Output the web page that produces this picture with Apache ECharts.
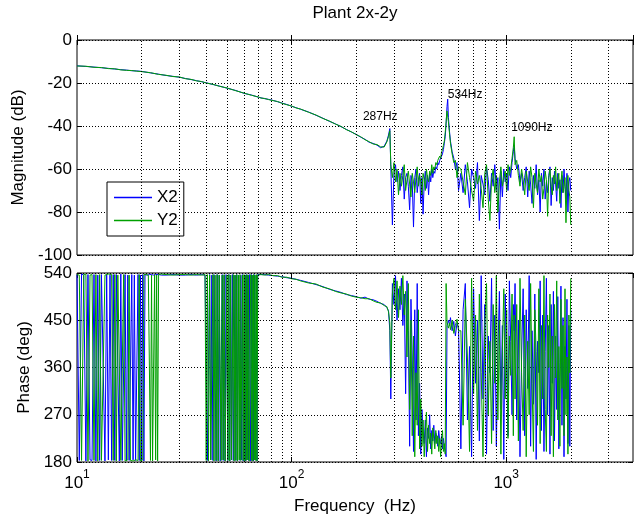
<!DOCTYPE html>
<html>
<head>
<meta charset="utf-8">
<script src="https://cdn.jsdelivr.net/npm/echarts@6/dist/echarts.min.js"></script>
<style>html,body{margin:0;padding:0;background:#fff;}#c{width:637px;height:521px;}</style>
</head>
<body>
<div id="c"></div>
<script>
// ---------- DATA ----------
const titleText = 'Plant 2x-2y';
const seriesNames = ['X2', 'Y2'];
const xTickValues = [10, 100, 1000];
const gridFreqs = [20,30,40,50,60,70,80,90,100,200,300,400,500,600,700,800,900,1000,2000,3000];
const peakLabels = ['287Hz', '534Hz', '1090Hz'];
const peakLabelAt = [[215, -35.5], [534, -25.6], [1055, -41]];

// low-frequency magnitude samples
const freqLowMag = [10,11,12,13,14,15,16,17,18,19,20,22,24,26,28,30,32,34,36,38,40,43,46,50,55,60,65,70];
const magLowX2 = [-12.0,-12.3,-12.6,-12.9,-13.2,-13.5,-13.8,-14.0,-14.3,-14.4,-14.6,-15.3,-15.9,-16.5,-16.9,-17.3,-17.9,-18.4,-18.9,-19.4,-19.9,-20.7,-21.4,-22.4,-23.5,-24.8,-25.6,-26.6];
const magLowY2 = [-12.1,-12.2,-12.7,-12.8,-13.3,-13.4,-13.9,-14.1,-14.2,-14.5,-14.7,-15.2,-16.0,-16.4,-17.0,-17.2,-18.0,-18.3,-19.0,-19.3,-20.0,-20.6,-21.5,-22.3,-23.6,-24.7,-25.7,-26.5];

// low-frequency phase samples (wrapping region)
const freqLowPhase = [
 10,10.25,10.5,10.75,11,11.25,11.5,11.75,12,12.25,
 12.5,12.75,13,13.25,13.5,13.75,14,14.25,14.5,14.75,
 15,15.25,15.5,15.75,16,16.25,16.5,16.75,17,17.25,
 17.5,17.75,18,18.25,18.5,18.75,19,19.25,19.5,19.75,
 20,20.25,20.5,20.75,21,21.25,21.5,21.75,22,22.25,
 22.5,22.75,23,23.25,23.5,23.75,24,24.25,24.5,24.75,
 25,
 26,28,30,32,34,36,38,39.5,
 40,40.5,41,41.5,42,42.5,43,43.5,44,44.5,
 45,45.5,46,46.5,47,47.5,48,48.5,49,49.5,
 50,50.5,51,51.5,52,52.5,53,53.5,54,54.5,
 55,55.5,56,56.5,57,57.5,58,58.5,59,59.5,
 60,60.5,61,61.5,62,62.5,63,63.5,64,64.5,
 65,65.5,66,66.5,67,67.5,68,68.5,69,69.5,
 70];
const phaseLowX2 = [
 537,183,538,536,182,537,184,183,537,182,
 536,183,537,538,182,537,184,536,183,537,
 183,537,536,182,538,183,184,537,182,536,
 183,182,537,184,536,183,182,537,183,536,
 183,537,182,537,537,536,537,537,536,537,
 537,536,537,537,536,537,537,536,537,536,
 537,
 536,537,536,536,537,536,537,536,
 536,183,182,537,184,536,183,537,536,182,
 537,183,536,182,184,537,183,536,182,537,
 536,183,537,182,536,184,537,183,182,536,
 183,537,182,536,537,183,536,184,537,182,
 183,536,182,537,184,536,183,537,536,182,
 537,183,536,182,537,184,183,536,182,537,
 537];
const phaseLowY2 = [
 537,536,183,537,538,182,536,537,183,537,
 182,537,183,184,536,537,538,536,537,183,
 537,182,536,537,183,184,537,182,183,184,
 536,183,184,182,183,184,182,183,537,182,
 183,184,537,536,537,538,536,537,183,536,
 182,183,537,184,536,182,537,536,537,538,
 537,
 537,536,537,537,536,537,536,537,
 183,537,182,536,184,183,537,182,536,183,
 537,182,536,537,183,536,184,537,182,183,
 536,183,537,182,536,184,183,537,182,536,
 183,537,182,536,184,537,183,182,536,183,
 537,182,536,183,537,184,536,182,183,537,
 183,536,182,537,184,536,183,537,182,536,
 537];

// mid/high frequency samples (shared by magnitude and phase)
const freqHigh = [
 72,75,78,82,86,90,95,100,105,110,120,130,140,150,160,170,180,190,200,210,220,230,240,250,260,270,278,283,287,
 290,295,300,305,310,315,320,325,330,335,340,345,350,355,360,365,370,375,380,385,390,395,400,405,410,415,420,425,430,435,440,445,450,455,460,465,470,475,480,485,490,495,500,505,510,515,520,525,530,
 534,538,
 545,550,560,570,580,590,600,
 615,630,645,660,675,690,705,720,735,750,765,780,795,810,825,840,855,870,885,900,915,930,945,960,975,990,1005,1020,1035,1050,1065,1080,
 1090,
 1100,1120,1140,1160,1180,1200,1220,1240,1260,1280,1300,1320,1340,1360,1380,1400,1420,1440,1460,1480,1500,1520,1540,1560,1580,1600,1620,1640,1660,1680,1700,1720,1740,1760,1780,1800,1820,1840,1860,1880,1900,1920,1940,1960,1980,2000];

const magHighX2 = [
 -26.9,-27.3,-27.6,-28.1,-28.7,-29.3,-30.0,-30.8,-31.5,-32.2,-33.5,-35.0,-36.4,-37.8,-39.0,-40.3,-41.6,-42.8,-43.9,-45.2,-46.2,-47.6,-48.1,-48.9,-50.1,-49.4,-47.0,-44.2,-41.2,
 -59,-86,-62,-58,-66,-61,-70,-63,-59,-74,-64,-62,-68,-79,-63,-66,-87,-64,-60,-71,-65,-62,-76,-64,-81,-66,-61,-69,-63,-72,-62,-66,-60,-64,-61,-62,-59,-60,-57,-58,-56,-56,-54,-53,-51,-48,-45,-39,-31,
 -27.5,-36,
 -43,-47,-52,-55,-60,-57,-70,
 -62,-71,-58,-66,-78,-60,-64,-69,-57,-84,-63,-67,-72,-59,-65,-75,-62,-68,-58,-70,-64,-88,-61,-73,-60,-66,-62,-70,-59,-64,-57,-52,
 -49,
 -55,-60,-58,-66,-62,-70,-64,-59,-73,-61,-67,-76,-63,-69,-58,-72,-65,-80,-62,-68,-60,-74,-66,-71,-63,-59,-77,-64,-70,-61,-67,-75,-62,-69,-65,-78,-63,-71,-60,-68,-74,-62,-80,-66,-64,-70];
const magHighY2 = [
 -27.0,-27.2,-27.7,-28.2,-28.6,-29.4,-30.1,-30.7,-31.6,-32.1,-33.6,-34.9,-36.5,-37.7,-39.1,-40.2,-41.7,-42.7,-44.0,-45.0,-46.4,-47.3,-48.4,-48.6,-49.7,-49.8,-47.4,-44.8,-42.2,
 -58,-64,-57,-66,-60,-72,-62,-68,-63,-58,-70,-65,-61,-67,-73,-62,-66,-71,-64,-59,-68,-63,-66,-72,-62,-65,-70,-60,-64,-66,-61,-63,-58,-62,-59,-60,-57,-58,-56,-56,-54,-55,-52,-51,-49,-47,-43,-38,-33,
 -33,-38,
 -44,-48,-53,-57,-56,-64,-59,
 -60,-66,-72,-57,-64,-70,-75,-61,-67,-63,-69,-78,-62,-58,-74,-84,-65,-60,-71,-63,-80,-66,-59,-68,-64,-61,-70,-58,-63,-60,-55,-50,
 -45,
 -58,-56,-63,-68,-60,-65,-72,-61,-66,-70,-59,-64,-78,-62,-67,-71,-60,-66,-63,-74,-69,-61,-65,-82,-64,-60,-68,-72,-63,-67,-59,-70,-65,-62,-76,-66,-61,-71,-68,-64,-85,-67,-63,-70,-73,-86];
const phaseHighX2 = [
 537,537,536,535,534,533,531,530,528,526,522,518,514,509,506,503,499,497,495,492,494,490,489,486,482,480,474,468,430,
 300,520,480,535,450,510,470,530,440,500,310,525,430,210,490,380,200,470,260,520,230,330,195,280,235,215,260,190,245,225,270,205,240,220,250,215,235,228,210,240,222,215,230,205,225,210,200,190,440,
 445,450,
 440,455,430,448,420,445,435,
 205,470,520,260,400,190,510,330,450,220,535,300,480,195,420,350,530,240,460,210,390,505,280,440,185,500,360,230,525,410,270,480,
 430,
 520,260,450,190,380,510,230,470,320,535,210,430,290,500,185,410,350,525,240,460,200,390,530,270,440,195,480,330,505,220,420,280,495,205,370,515,250,455,190,400,300,490,215,440,210,470];
const phaseHighY2 = [
 537,536,537,535,535,532,532,529,528,525,521,519,513,510,505,502,500,496,494,493,491,491,487,484,483,478,476,466,445,
 340,500,530,470,525,455,515,480,535,460,505,380,520,280,450,230,420,190,350,250,470,205,300,210,260,190,240,275,200,250,215,235,195,245,225,205,240,215,230,200,225,190,220,240,200,215,195,520,445,
 440,435,
 445,432,450,425,440,452,430,
 430,250,490,380,200,530,310,460,240,500,350,190,440,520,270,410,215,480,330,535,260,450,195,390,510,300,470,225,420,345,500,230,
 460,
 300,480,220,530,350,240,460,190,410,270,520,330,200,470,390,250,510,215,440,300,535,280,200,460,360,500,230,420,190,480,340,525,260,400,210,490,320,440,230,510,270,380,195,460,350,530];

// ---------- CHART ----------
const FONT = '"Liberation Sans", Arial, Helvetica, sans-serif';
const FS = 17;
const BLUE = '#0000ff', GREEN = '#00a000';
function pairs(fs, vs) { return fs.map((f, i) => [f, vs[i]]); }
const magX2 = pairs(freqLowMag, magLowX2).concat(pairs(freqHigh, magHighX2));
const magY2 = pairs(freqLowMag, magLowY2).concat(pairs(freqHigh, magHighY2));
const phX2 = pairs(freqLowPhase, phaseLowX2).concat(pairs(freqHigh, phaseHighX2));
const phY2 = pairs(freqLowPhase, phaseLowY2).concat(pairs(freqHigh, phaseHighY2));

const dotted = { color: '#000', width: 1, type: [1, 2] };
function xAx(grid, pos, labels) {
  const a = {
    gridIndex: grid, type: 'log', logBase: 10, min: 10, max: 3900, position: pos,
    axisLine: { show: false },
    axisTick: { show: true, inside: true, length: 5, lineStyle: { color: '#000' } },
    splitLine: { show: false },
    axisLabel: { show: false }
  };
  if (labels) {
    a.axisLabel = {
      show: true, margin: 7, showMaxLabel: false, color: '#000', fontFamily: FONT,
      formatter: function (v) {
        const e = Math.log10(v);
        const r = Math.round(e);
        if (Math.abs(e - r) > 1e-6 || xTickValues.indexOf(Math.round(v)) < 0) return '';
        return '{b|10}{s|' + r + '}';
      },
      rich: {
        b: { fontSize: FS, fontFamily: FONT, color: '#000', lineHeight: 23, verticalAlign: 'bottom' },
        s: { fontSize: 12, fontFamily: FONT, color: '#000', lineHeight: 12, verticalAlign: 'top' }
      }
    };
    a.name = 'Frequency  (Hz)';
    a.nameLocation = 'middle';
    a.nameGap = 36;
    a.nameTextStyle = { fontSize: FS, fontFamily: FONT, color: '#000' };
  }
  return a;
}
function yAx(grid, pos, min, max, interval, name, gap) {
  const left = pos === 'left';
  return {
    gridIndex: grid, type: 'value', min: min, max: max, interval: interval, position: pos,
    axisLine: { show: false },
    axisTick: { show: true, inside: true, length: 5, lineStyle: { color: '#000' } },
    splitLine: { show: left, lineStyle: dotted },
    axisLabel: { show: left, margin: 5, fontSize: FS, fontFamily: FONT, color: '#000' },
    name: left ? name : '',
    nameLocation: 'middle', nameGap: gap,
    nameTextStyle: { fontSize: FS, fontFamily: FONT, color: '#000' }
  };
}
function gridLines(xi, yi) {
  return {
    type: 'line', xAxisIndex: xi, yAxisIndex: yi, data: [], z: 1, silent: true,
    markLine: {
      silent: true, symbol: ['none', 'none'], animation: false,
      label: { show: false }, lineStyle: dotted, emphasis: { disabled: true },
      data: gridFreqs.map(f => ({ xAxis: f }))
    }
  };
}
function dataSeries(name, color, xi, yi, data) {
  return {
    name: name, type: 'line', xAxisIndex: xi, yAxisIndex: yi, data: data,
    symbol: 'none', showSymbol: false, sampling: null, z: 3,
    lineStyle: { color: color, width: 1 }, itemStyle: { color: color },
    emphasis: { disabled: true }, silent: true
  };
}

const magBlue = dataSeries(seriesNames[0], BLUE, 0, 0, magX2);
magBlue.markPoint = {
  symbol: 'circle', symbolSize: 0, silent: true, animation: false,
  label: { show: true, position: 'right', distance: 0, fontSize: 12, fontFamily: FONT, color: '#000',
           formatter: p => p.name },
  data: peakLabels.map((t, i) => ({ name: t, coord: peakLabelAt[i] }))
};

const chart = echarts.init(document.getElementById('c'), null, { renderer: 'canvas' });
chart.setOption({
  animation: false,
  backgroundColor: '#fff',
  textStyle: { fontFamily: FONT, color: '#000' },
  graphic: [{
    type: 'text', x: 355, y: 13, silent: true,
    style: { text: titleText, fontSize: FS, fontFamily: FONT, fill: '#000', align: 'center', verticalAlign: 'middle' }
  }],
  legend: {
    data: seriesNames.map(n => ({ name: n, icon: 'rect' })),
    orient: 'vertical', left: 107, top: 182,
    itemWidth: 38, itemHeight: 1.5, itemGap: 6, padding: [7, 6, 7, 7],
    backgroundColor: '#fff', borderColor: '#000', borderWidth: 1, borderRadius: 0,
    selectedMode: false,
    textStyle: { fontSize: FS, fontFamily: FONT, color: '#000' }
  },
  grid: [
    { left: 77, right: 4, top: 40, height: 215, show: true, borderColor: '#000', borderWidth: 1, backgroundColor: 'transparent' },
    { left: 77, right: 4, top: 273, height: 189, show: true, borderColor: '#000', borderWidth: 1, backgroundColor: 'transparent' }
  ],
  xAxis: [xAx(0, 'bottom', false), xAx(0, 'top', false), xAx(1, 'bottom', true), xAx(1, 'top', false)],
  yAxis: [
    yAx(0, 'left', -100, 0, 20, 'Magnitude (dB)', 48),
    yAx(0, 'right', -100, 0, 20, '', 0),
    yAx(1, 'left', 180, 540, 90, 'Phase (deg)', 42),
    yAx(1, 'right', 180, 540, 90, '', 0)
  ],
  series: [
    gridLines(0, 0),
    gridLines(2, 2),
    magBlue,
    dataSeries(seriesNames[1], GREEN, 0, 0, magY2),
    dataSeries(seriesNames[0], BLUE, 2, 2, phX2),
    dataSeries(seriesNames[1], GREEN, 2, 2, phY2)
  ]
});
</script>
</body>
</html>
